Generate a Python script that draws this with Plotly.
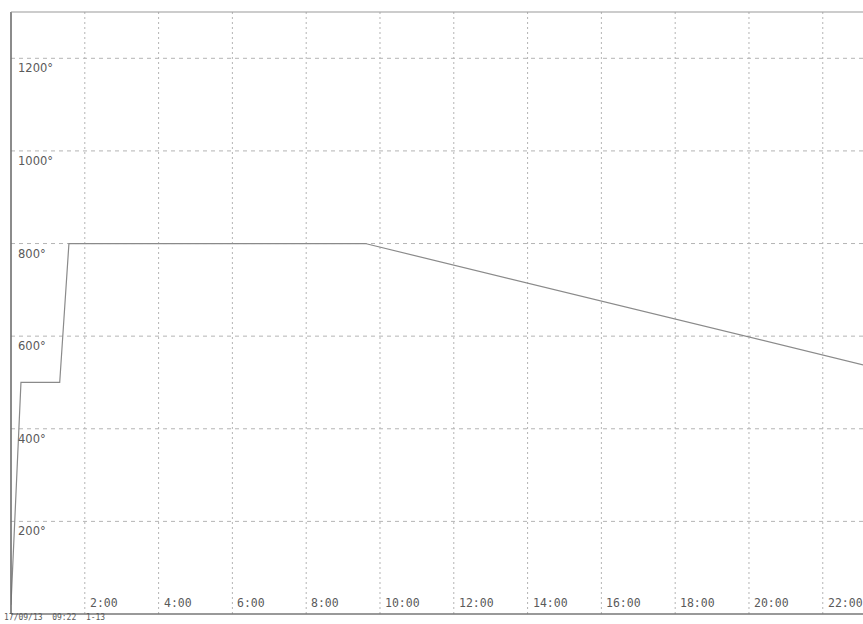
import plotly.graph_objects as go

# Firing profile: elapsed hours vs. kiln temperature (degrees)
hours = [0, 0.27, 1.32, 1.57, 9.6, 23.1]
temps = [20, 500, 500, 800, 800, 538]

# Axis ticks and their labels
x_ticks = [2, 4, 6, 8, 10, 12, 14, 16, 18, 20, 22]
x_labels = [f"{h}:00" for h in x_ticks]
y_ticks = [200, 400, 600, 800, 1000, 1200]
y_labels = [f"{t}°" for t in y_ticks]
footer = "17/09/13  09:22  1-13"

X_MAX = 23.09
Y_MAX = 1300

MONO = "DejaVu Sans Mono"
LABEL_COLOR = "#5a5a5a"
GRID_COLOR = "#b4b4b4"

fig = go.Figure()

fig.add_trace(go.Scatter(
    x=hours, y=temps, mode="lines",
    line=dict(color="#8a8a8a", width=1.2),
    hoverinfo="skip", showlegend=False,
))

# Vertical (time) grid lines - short dotted dashes
for h in x_ticks:
    fig.add_shape(type="line", xref="x", yref="y", x0=h, x1=h, y0=0, y1=Y_MAX,
                  line=dict(color=GRID_COLOR, width=1, dash="2px,3px"), layer="below")

# Horizontal (temperature) grid lines - longer dashes
for t in y_ticks:
    fig.add_shape(type="line", xref="x", yref="y", x0=0, x1=X_MAX, y0=t, y1=t,
                  line=dict(color=GRID_COLOR, width=1, dash="4px,4px"), layer="below")

# Frame: left axis, bottom axis and top border
fig.add_shape(type="line", xref="paper", yref="paper", x0=0, x1=0, y0=0, y1=1,
              line=dict(color="#6e6e6e", width=1.6))
fig.add_shape(type="line", xref="paper", yref="paper", x0=0, x1=1, y0=0, y1=0,
              line=dict(color="#777777", width=1.6))
fig.add_shape(type="line", xref="paper", yref="paper", x0=0, x1=1, y0=1, y1=1,
              line=dict(color="#999999", width=1.2))

annotations = []
for h, lab in zip(x_ticks, x_labels):
    annotations.append(dict(
        x=h, y=0, xref="x", yref="y", text=lab, showarrow=False,
        xanchor="left", yanchor="bottom", xshift=3, yshift=2,
        font=dict(family=MONO, size=11.5, color=LABEL_COLOR),
    ))
for t, lab in zip(y_ticks, y_labels):
    annotations.append(dict(
        x=0, y=t, xref="x", yref="y", text=lab, showarrow=False,
        xanchor="left", yanchor="top", xshift=5, yshift=-1,
        font=dict(family="DejaVu Sans", size=11.5, color=LABEL_COLOR),
    ))
annotations.append(dict(
    x=0, y=0, xref="paper", yref="paper", text=footer, showarrow=False,
    xanchor="left", yanchor="bottom", xshift=-9, yshift=-10,
    font=dict(family=MONO, size=8, color=LABEL_COLOR),
))

fig.update_layout(
    width=863, height=624,
    margin=dict(l=11, r=0, t=12, b=10),
    paper_bgcolor="white", plot_bgcolor="white",
    xaxis=dict(range=[0, X_MAX], showgrid=False, zeroline=False,
               showticklabels=False, ticks="", showline=False, fixedrange=True),
    yaxis=dict(range=[0, Y_MAX], showgrid=False, zeroline=False,
               showticklabels=False, ticks="", showline=False, fixedrange=True),
    annotations=annotations,
    showlegend=False,
)

fig.write_html("out.html")
